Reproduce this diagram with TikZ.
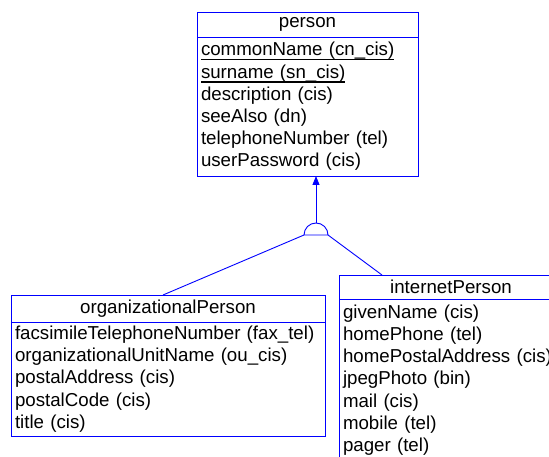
\documentclass[tikz,border=0pt]{standalone}
\usepackage{fontspec}
\setmainfont{Liberation Sans}
\usetikzlibrary{positioning,arrows.meta}
\newcommand{\keyattr}[1]{\leavevmode\setbox0\hbox{#1}\rlap{\rule[-4.6pt]{\wd0}{1.3pt}}\box0}

\begin{document}
\begin{tikzpicture}[x=1pt, y=-1pt,
    every node/.style={font=\fontsize{18.7}{22.2}\selectfont},
    classhead/.style={draw=blue, line width=0.9pt, outer sep=0pt, inner sep=0pt, anchor=north west},
    classattrs/.style={draw=blue, line width=0.9pt, outer sep=0pt, inner xsep=4pt, inner ysep=0pt, align=left},
    link/.style={draw=blue, line width=0.9pt}]
  \clip (0,0) rectangle (549,457);
  % person
  \node[classhead, minimum width=221, minimum height=25] (personHead) at (197,12) {person};
  \node[classattrs, text width=213, minimum height=139, below=0pt of personHead] (personAttrs)
    {\keyattr{commonName (cn\_cis)}\\ \keyattr{surname (sn\_cis)}\\ description (cis)\\
     seeAlso (dn)\\ telephoneNumber (tel)\\ userPassword (cis)};
  % organizationalPerson
  \node[classhead, minimum width=314, minimum height=27] (orgHead) at (11,295) {organizationalPerson};
  \node[classattrs, text width=306, minimum height=114, below=0pt of orgHead] (orgAttrs)
    {facsimileTelephoneNumber (fax\_tel)\\ organizationalUnitName (ou\_cis)\\ postalAddress (cis)\\
     postalCode (cis)\\ title (cis)};
  % internetPerson
  \node[classhead, minimum width=224, minimum height=24] (inetHead) at (339,275) {internetPerson};
  \node[classattrs, text width=216, minimum height=162, below=0pt of inetHead] (inetAttrs)
    {givenName (cis)\\ homePhone (tel)\\ homePostalAddress (cis)\\ jpegPhoto (bin)\\
     mail (cis)\\ mobile (tel)\\ pager (tel)};
  % generalization
  \coordinate (gen) at (316,235);
  \coordinate (genLeft) at (304,235);
  \coordinate (genRight) at (328,235);
  \coordinate (genTop) at (316,223);
  \draw[link] (genLeft) arc[start angle=180, end angle=0, radius=12pt] -- cycle;
  \draw[link, -{Triangle[length=9pt, width=7pt]}] (genTop) -- (personAttrs.south -| genTop);
  \draw[link] (genLeft) -- ([xshift=152pt]orgHead.north west);
  \draw[link] (genRight) -- ([xshift=43pt]inetHead.north west);
\end{tikzpicture}
\end{document}
